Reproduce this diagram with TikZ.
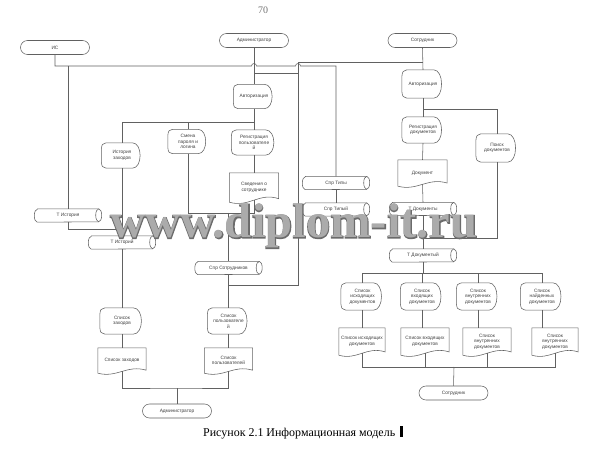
\documentclass[tikz,border=0pt]{standalone}
\usepackage{fontspec}
\setmainfont{Liberation Sans}
\newfontfamily\serifru{Liberation Serif}
\newfontfamily\wmout{Liberation Serif}[BoldFeatures={FakeBold=3}]
\usetikzlibrary{calc}

\tikzset{
  ln/.style={draw=black!62, line width=0.55bp},
  shp/.style={draw=black!62, line width=0.55bp},
  lbl/.style={font=\fontsize{4.8}{5.6}\selectfont, align=center, inner sep=0pt, text=black!75},
  term/.style={lbl, draw=black!62, line width=0.55bp, rounded corners=7bp, minimum width=69bp, minimum height=14bp},
}

\newcommand\Disp[6]{%
  \node[lbl, minimum width=#4bp, minimum height=#5bp] (#1) at (#2,#3) {#6};
  \draw[shp] ($(#1.north west)!0.25!(#1.north east)$) -- ($(#1.north west)!0.75!(#1.north east)$)
    .. controls (#1.north east) and (#1.south east) .. ($(#1.south west)!0.75!(#1.south east)$)
    -- ($(#1.south west)!0.25!(#1.south east)$)
    .. controls (#1.south west) .. (#1.west)
    .. controls (#1.north west) .. ($(#1.north west)!0.25!(#1.north east)$) -- cycle;
}
\newcommand\Doc[6]{%
  \node[lbl, minimum width=#4bp, minimum height=#5bp] (#1) at (#2,#3) {#6};
  \draw[shp] ($(#1.south east)+(0,#5*0.12)$) -- (#1.north east) -- (#1.north west) -- (#1.south west)
    .. controls ($(#1.south west)+(#4*0.4,-#5*0.2)$) and ($(#1.south east)+(-#4*0.4,#5*0.35)$) .. ($(#1.south east)+(0,#5*0.12)$) -- cycle;
  \coordinate (#1-b) at ($(#1.south)+(0,#5*0.07)$);
}
\newcommand\Cyl[4]{%
  \node[lbl, minimum width=67bp, minimum height=13bp] (#1) at (#2,#3) {#4};
  \draw[shp] ($(#1.north west)+(3,0)$) -- ($(#1.north east)+(-3,0)$)
    arc[start angle=90,end angle=-90,x radius=3,y radius=6.5]
    -- ($(#1.south west)+(3,0)$)
    arc[start angle=270,end angle=90,x radius=3,y radius=6.5] -- cycle;
  \draw[shp] ($(#1.north east)+(-3,0)$) arc[start angle=90,end angle=270,x radius=3,y radius=6.5];
}

\begin{document}
\begin{tikzpicture}[x=1bp,y=1bp]
\fill[white] (0,0) rectangle (594,-460);
\path[use as bounding box] (0,0) rectangle (594,-460);

% page number
\node[font=\serifru\fontsize{10}{10}\selectfont, text=black!55, inner sep=0] (pnum) at (263,-10) {70};

% terminators
\node[term] (IS)   at (55,-47.5)   {ИС};
\node[term] (admT) at (254,-40.5)  {Администратор};
\node[term] (sotT) at (422.5,-40.5) {Сотрудник};
\node[term] (admB) at (177,-411)   {Администратор};
\node[term] (sotB) at (453.5,-393) {Сотрудник};

% display shapes
\Disp{authA}{254}{-96.5}{41}{24}{Авторизация}
\Disp{authS}{423}{-84}{42}{28}{Авторизация}
\Disp{regS}{423}{-130}{42}{26}{Регистрация\\документов}
\Disp{poisk}{497}{-148}{42}{28}{Поиск\\документов}
\Disp{hist}{122}{-155.5}{41}{25}{История\\заходов}
\Disp{smena}{188}{-141.5}{40}{24}{Смена\\пароля и\\логина}
\Disp{regU}{254}{-142.5}{45}{25}{Регистрация\\пользователе\\й}
\Disp{l1}{362.5}{-296.5}{43}{27}{Список\\исходящих\\документов}
\Disp{l2}{422}{-296.5}{43}{27}{Список\\входящих\\документов}
\Disp{l3}{478}{-296.5}{43}{27}{Список\\внутренних\\документов}
\Disp{l4}{542}{-296.5}{43}{27}{Список\\найденных\\документов}
\Disp{spisZ}{122}{-321}{44}{26}{Список\\заходов}
\Disp{spisU}{228.5}{-321}{42}{26}{Список\\пользователе\\й}

% documents
\Doc{sved}{254}{-187.5}{49}{29}{Сведения о\\сотруднике}
\Doc{dokument}{422.5}{-173}{49}{26}{Документ}
\Doc{d1}{362}{-341.5}{46}{27}{Список исходящих\\документов}
\Doc{d2}{425}{-341.5}{48}{27}{Список входящих\\документов}
\Doc{d3}{487}{-341.5}{48}{27}{Список\\внутренних\\документов}
\Doc{d4}{555}{-341.5}{46}{27}{Список\\внутренних\\документов}
\Doc{docZ}{122}{-360.5}{48}{25}{Список заходов}
\Doc{docU}{228.5}{-360.5}{48}{25}{Список\\пользователей}

% storages
\Cyl{th1}{68}{-215.5}{Т История}
\Cyl{th2}{122}{-242.5}{Т Историй}
\Cyl{sprT1}{336}{-183}{Спр Типы}
\Cyl{sprT2}{336}{-209.5}{Спр Типый}
\Cyl{td1}{423}{-209}{Т Документы}
\Cyl{td2}{423}{-255.5}{Т Документый}
\Cyl{sprS}{228.5}{-268}{Спр Сотрудников}

% junction points
\coordinate (jIS) at (55,-66);
\coordinate (jTH) at (68,-66);
\coordinate (jT) at (336,-66);
\coordinate (j229) at (122,-229);
\coordinate (j122) at (254,-122);
\coordinate (j213) at (228.5,-213);
\coordinate (j213r) at (254,-213);
\coordinate (j73) at (254,-73);
\coordinate (j73r) at (298,-73);
\coordinate (j62) at (422.5,-62);
\coordinate (j62l) at (298,-62);
\coordinate (j285) at (298,-285);
\coordinate (j285l) at (228.5,-285);
\coordinate (j109) at (423,-109);
\coordinate (j238) at (423,-238);
\coordinate (j273) at (423,-273);
\coordinate (j367) at (454,-367);
\coordinate (j388) at (177,-388);

% connectors: IS
\draw[ln] (IS.south) -- (jIS) -- (251.5,-66) arc[start angle=180,end angle=0,radius=2.5]
  -- (295.5,-66) arc[start angle=180,end angle=0,radius=2.5] -- (jT) -- (sprT1.north);
\draw[ln] (jTH) -- (th1.north);
\draw[ln] (th1.south) |- (j229);
\draw[ln] (sprT1.south) -- (sprT2.north);

% administrator branch
\draw[ln] (admT.south) -- (authA.north);
\draw[ln] (j73) -- (j73r);
\draw[ln] (authA.south) -- (regU.north);
\draw[ln] (hist.north) |- (j122);
\draw[ln] (smena.north) -- (smena.north |- j122);
\draw[ln] (hist.south) -- (th2.north);
\draw[ln] (th2.south) -- (spisZ.north);
\draw[ln] (spisZ.south) -- (docZ.north);
\draw[ln] (regU.south) -- (sved.north);
\draw[ln] (smena.south) |- (j213r) -- (sved-b);
\draw[ln] (j213) -- (sprS.north);
\draw[ln] (sprS.south) -- (spisU.north);
\draw[ln] (spisU.south) -- (docU.north);
\draw[ln] (docZ-b) |- (j388) -| (docU-b);
\draw[ln] (j388) -- (admB.north);

% employee branch
\draw[ln] (sotT.south) -- (authS.north);
\draw[ln] (j62) -- (j62l) -- (j285) -- (j285l);
\draw[ln] (authS.south) -- (regS.north);
\draw[ln] (j109) -| (poisk.north);
\draw[ln] (regS.south) -- (dokument.north);
\draw[ln] (dokument-b) -- (td1.north);
\draw[ln] (td1.south) -- (td2.north);
\draw[ln] (poisk.south) |- (j238);
\draw[ln] (td2.south) -- (j273);
\draw[ln] (l1.north) |- (l4.north |- j273) -- (l4.north);
\draw[ln] (l2.north) -- (l2.north |- j273);
\draw[ln] (l3.north) -- (l3.north |- j273);
\draw[ln] (l1.south) -- (l1.south |- d1.north);
\draw[ln] (l2.south) -- (l2.south |- d2.north);
\draw[ln] (l3.south) -- (l3.south |- d3.north);
\draw[ln] (l4.south) -- (l4.south |- d4.north);
\draw[ln] (d1-b) |- (j367);
\draw[ln] (d4-b) |- (j367);
\draw[ln] (d2-b) -- (d2-b |- j367);
\draw[ln] (d3-b) -- (d3-b |- j367);
\draw[ln] (j367) -- (sotB.north);

% watermark
\node[anchor=base west, inner sep=0, text=black!58,
  font=\wmout\bfseries\fontsize{48.8}{50}\selectfont] (wmo) at (110,-238) {www.diplom-it.ru};
\node[anchor=base west, inner sep=0, text=black!33,
  font=\serifru\bfseries\fontsize{48.8}{50}\selectfont] (wm) at (110,-238) {www.diplom-it.ru};

% caption
\node[anchor=base west, inner sep=0, font=\serifru\fontsize{12}{14}\selectfont] (cap) at (203,-436) {Рисунок 2.1 Информационная модель};
\fill[black] (400,-426) rectangle (402.5,-437);
\end{tikzpicture}
\end{document}
